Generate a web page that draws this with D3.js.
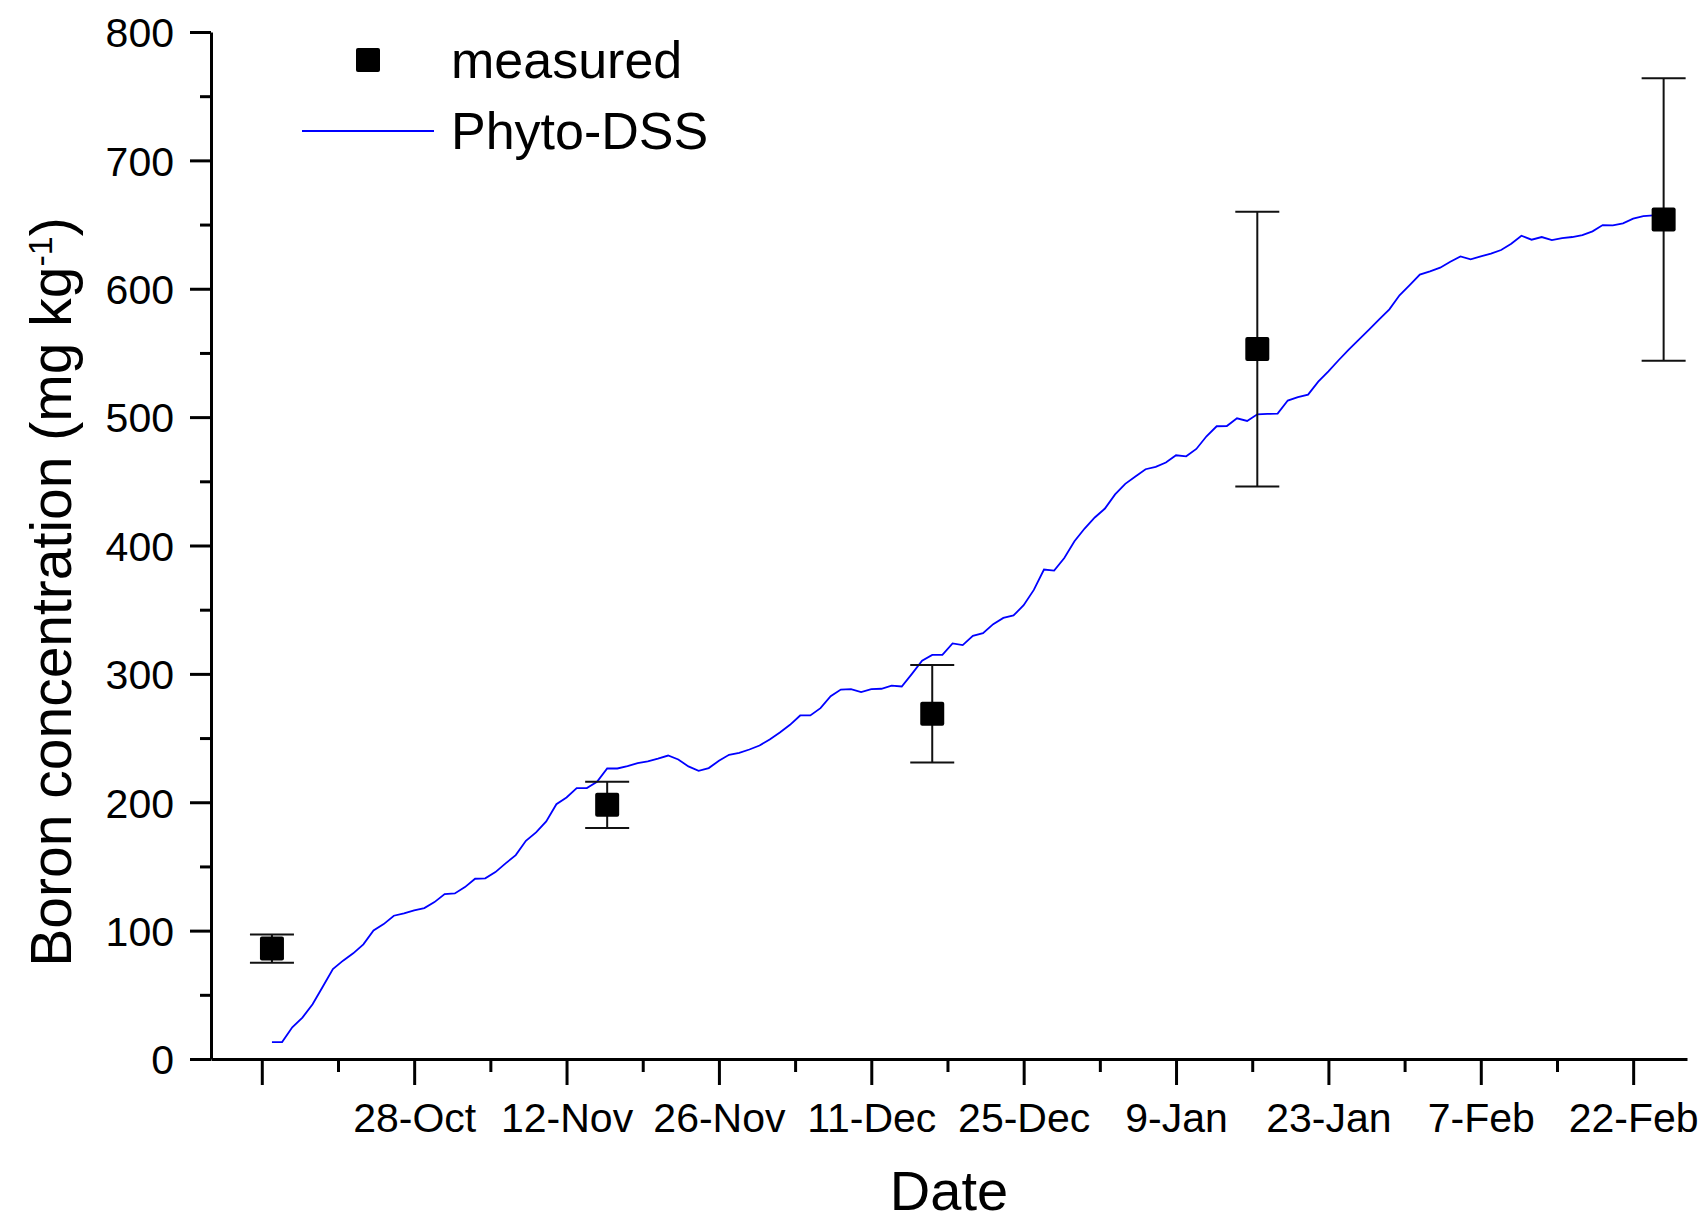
<!DOCTYPE html>
<html>
<head>
<meta charset="utf-8">
<script src="https://cdn.jsdelivr.net/npm/d3@7"></script>
<style>
  body { margin: 0; background: #fff; }
  text { font-family: "Liberation Sans", Arial, sans-serif; fill: #000; }
</style>
</head>
<body>
<div id="vis"></div>
<script>
// days counted from 28-Oct
const tickDays = [-15, 0, 15, 30, 45, 60, 75, 90, 105, 120];
const tickLabels = ["", "28-Oct", "12-Nov", "26-Nov", "11-Dec", "25-Dec", "9-Jan", "23-Jan", "7-Feb", "22-Feb"];
const yTicks = [0, 100, 200, 300, 400, 500, 600, 700, 800];

// measured boron concentration (mean, sd)
const measuredDays = [-14, 19, 51, 83, 123];
const measuredValues = [86, 198, 269, 553, 654];
const measuredSd = [11, 18, 38, 107, 110];

// Phyto-DSS daily simulation, first day = -14
const modelStartDay = -14;
const modelValues = [
  13.2, 13.2, 24.7, 32.2, 42.6, 56.3, 70.1, 76.6, 82.3, 89.3,
  100.2, 105.1, 111.6, 113.4, 115.8, 117.6, 122.2, 128.5, 129.0, 133.9,
  140.4, 140.7, 145.6, 152.4, 158.8, 170.0, 176.5, 185.1, 198.5,
  203.7, 211.0, 211.0, 215.9, 226.3, 226.3, 228.1, 230.5, 231.8, 233.9,
  236.4, 233.3, 227.9, 224.5, 226.6, 232.3, 237.0, 238.5, 241.1, 244.2,
  248.9, 254.4, 260.3, 267.6, 267.6, 273.3, 282.6,
  287.8, 288.1, 285.8, 288.1, 288.4, 290.9, 290.2, 300.0, 310.2, 314.8,
  314.8, 323.7, 322.4, 329.6, 331.7, 338.7, 343.6, 345.5, 353.5, 365.4,
  381.3, 380.5, 390.3, 403.3, 413.2, 421.8, 428.8, 439.8,
  448.0, 453.7, 459.4, 461.2, 464.6, 470.3, 469.5, 475.2, 485.1, 492.9,
  493.1, 499.1, 497.0, 502.2, 502.5, 502.7, 512.9, 515.5, 517.5, 527.6,
  535.7, 544.3, 552.6, 560.4, 568.2, 576.2, 584.0,
  594.9, 602.9, 611.0, 613.6, 616.4, 621.1, 625.2, 622.9, 625.2, 627.3,
  630.2, 635.1, 641.3, 638.2, 640.3, 637.9, 639.5, 640.3, 641.8, 644.7,
  649.6, 649.4, 650.9, 654.6, 656.6, 657.2, 657.7
];

function createVis() {
  const width = 1707;
  const height = 1223;
  const margin = { top: 32, right: 20, bottom: 164, left: 211 };

  const svg = d3.select("#vis")
    .append("svg")
    .attr("width", width)
    .attr("height", height)
    .attr("viewBox", [0, 0, width, height]);

  const x = d3.scaleLinear()
    .domain([-20, 125.3])
    .range([margin.left, width - margin.right]);

  const y = d3.scaleLinear()
    .domain([0, 800])
    .range([height - margin.bottom, margin.top]);

  const y0 = y(0);

  // x axis, major + minor ticks
  const xAxis = svg.append("g")
    .attr("transform", `translate(0,${y0})`)
    .call(d3.axisBottom(x)
      .tickValues(tickDays)
      .tickFormat((d, i) => tickLabels[i])
      .tickSize(26)
      .tickSizeOuter(0));
  xAxis.selectAll("text")
    .attr("y", 73)
    .attr("dy", 0)
    .style("font-size", "41px");

  svg.append("g")
    .attr("transform", `translate(0,${y0})`)
    .call(d3.axisBottom(x)
      .tickValues(tickDays.map(d => d + 7.5).filter(d => d < 125))
      .tickFormat("")
      .tickSize(13)
      .tickSizeOuter(0))
    .select(".domain").remove();

  // y axis, major + minor ticks
  const yAxis = svg.append("g")
    .attr("transform", `translate(${margin.left},0)`)
    .call(d3.axisLeft(y)
      .tickValues(yTicks)
      .tickSize(21)
      .tickSizeOuter(0));
  yAxis.selectAll("text")
    .attr("x", -37)
    .attr("dy", "0.36em")
    .style("font-size", "41px");

  svg.append("g")
    .attr("transform", `translate(${margin.left},0)`)
    .call(d3.axisLeft(y)
      .tickValues(yTicks.slice(0, -1).map(d => d + 50))
      .tickFormat("")
      .tickSize(11)
      .tickSizeOuter(0))
    .select(".domain").remove();

  svg.selectAll(".domain, .tick line")
    .attr("stroke", "#000")
    .attr("stroke-width", 3);
  svg.selectAll(".tick text").attr("fill", "#000");

  // model line
  const line = d3.line()
    .x((d, i) => x(modelStartDay + i))
    .y(d => y(d));

  svg.append("path")
    .datum(modelValues)
    .attr("fill", "none")
    .attr("stroke", "#0000ff")
    .attr("stroke-width", 1.8)
    .attr("d", line);

  // measured points with error bars
  const measured = measuredDays.map((d, i) => ({ day: d, value: measuredValues[i], sd: measuredSd[i] }));
  const cap = 22;
  const bars = svg.append("g")
    .attr("stroke", "#111")
    .attr("stroke-width", 2);

  bars.selectAll(".stem")
    .data(measured)
    .join("line")
    .attr("x1", d => x(d.day))
    .attr("x2", d => x(d.day))
    .attr("y1", d => y(d.value - d.sd))
    .attr("y2", d => y(d.value + d.sd));

  bars.selectAll(".capTop")
    .data(measured)
    .join("line")
    .attr("x1", d => x(d.day) - cap)
    .attr("x2", d => x(d.day) + cap)
    .attr("y1", d => y(d.value + d.sd))
    .attr("y2", d => y(d.value + d.sd));

  bars.selectAll(".capBottom")
    .data(measured)
    .join("line")
    .attr("x1", d => x(d.day) - cap)
    .attr("x2", d => x(d.day) + cap)
    .attr("y1", d => y(d.value - d.sd))
    .attr("y2", d => y(d.value - d.sd));

  const size = 24;
  svg.append("g")
    .selectAll("rect")
    .data(measured)
    .join("rect")
    .attr("x", d => x(d.day) - size / 2)
    .attr("y", d => y(d.value) - size / 2)
    .attr("width", size)
    .attr("height", size)
    .attr("rx", 2)
    .attr("fill", "#000");

  // legend
  svg.append("rect")
    .attr("x", 368 - size / 2)
    .attr("y", 60 - size / 2)
    .attr("width", size)
    .attr("height", size)
    .attr("rx", 2)
    .attr("fill", "#000");
  svg.append("text")
    .attr("x", 451)
    .attr("y", 78)
    .style("font-size", "52px")
    .text("measured");
  svg.append("line")
    .attr("x1", 302)
    .attr("x2", 434)
    .attr("y1", 131)
    .attr("y2", 131)
    .attr("stroke", "#0000ff")
    .attr("stroke-width", 1.8);
  svg.append("text")
    .attr("x", 451)
    .attr("y", 149)
    .style("font-size", "52px")
    .text("Phyto-DSS");

  // axis titles
  svg.append("text")
    .attr("x", 949)
    .attr("y", 1210)
    .attr("text-anchor", "middle")
    .style("font-size", "56px")
    .text("Date");

  const yTitle = svg.append("text")
    .attr("transform", "translate(71,592) rotate(-90)")
    .attr("text-anchor", "middle")
    .style("font-size", "57px");
  yTitle.append("tspan").text("Boron concentration (mg kg");
  yTitle.append("tspan")
    .attr("dy", "-0.55em")
    .style("font-size", "34px")
    .text("-1");
  yTitle.append("tspan")
    .attr("dy", "0.33em")
    .text(")");
}

window.addEventListener("load", createVis);
</script>
</body>
</html>
